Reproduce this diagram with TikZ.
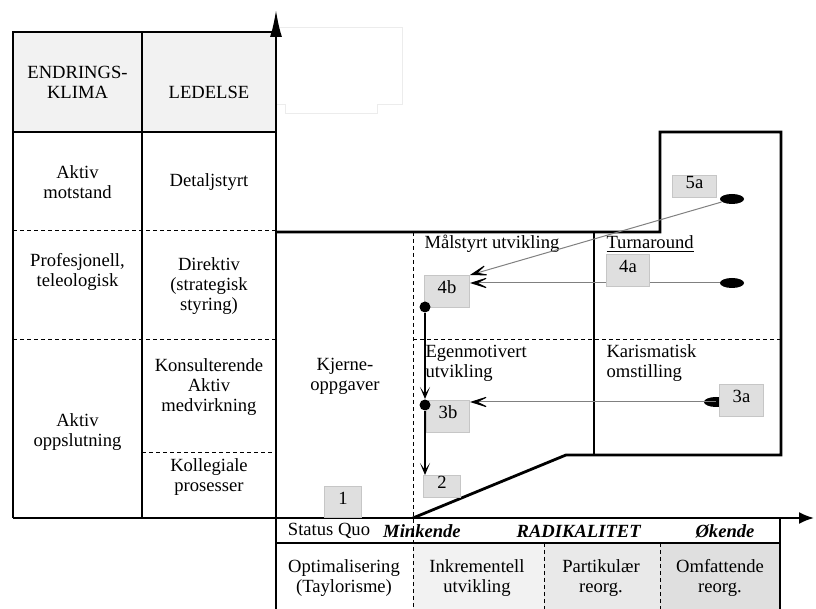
\documentclass[tikz,border=0pt]{standalone}
\usepackage{fontspec}
\setmainfont{Liberation Serif}
\usetikzlibrary{arrows.meta, shapes.geometric, calc}
\tikzset{
    %set default line width to 0.5pt
    every picture/.style={line width=0.5pt},
    frame-line/.style={
        line width=1pt,
    },
    box-line/.style={
        line width=1.4pt,
    },
    grid-dash/.style={
        dash pattern=on 2pt off 1.5pt,
        line width=0.5pt,
    },
    lbl-box/.style={
        draw=gray!45,
        fill=gray!25,
        inner sep=0pt,
        anchor=north west,
        text height=6.5pt,
        text depth=4pt,
    },
    txt/.style={
        align=center,
        inner sep=0pt,
    },
    dot/.style={
        circle,
        fill=black,
        inner sep=0pt,
        minimum size=5.5pt,
    },
    oval/.style={
        ellipse,
        fill=black,
        inner sep=0pt,
        minimum width=12pt,
        minimum height=5pt,
    },
    flow-arrow/.style={
        draw=gray,
        line width=0.5pt,
        -{Stealth[length=11pt,width=7pt,inset=7pt,color=black]},
    },
    path-arrow/.style={
        line width=0.6pt,
        -{Stealth[length=6pt,width=5pt,inset=3.5pt]},
    }
}

\begin{document}
\begin{tikzpicture}[x=0.5pt,y=-0.5pt,font=\fontsize{9.3}{10}\selectfont]
\useasboundingbox (0,0) rectangle (816,609);

%Header fill
\fill[gray!10] (13,32) rectangle (276,132);
%Bottom table fills
\fill[gray!10] (413,543) rectangle (544,609);
\fill[gray!17] (544,543) rectangle (660,609);
\fill[gray!25] (660,543) rectangle (780,609);

%Faint frame
\draw[gray!15] (277,28) -- (402,28) -- (402,105) -- (377,105) -- (377,114) -- (285,114) -- (285,105) -- (277,105);

%Left table
\draw[frame-line] (276,32) -- (13,32) -- (13,518);
\draw[frame-line] (142,32) -- (142,518);
\draw[frame-line] (13,132) -- (276,132);
\draw[grid-dash] (13,231) -- (276,231);
\draw[grid-dash] (13,340) -- (276,340);
\draw[grid-dash] (142,453) -- (276,453);

%Dashed grid
\draw[grid-dash] (413,232) -- (413,609);
\draw[grid-dash] (413,340) -- (781,340);
\draw[grid-dash] (544,543) -- (544,609);
\draw[grid-dash] (660,543) -- (660,609);

%Outline of the zones
\draw[box-line] (276,232) -- (660,232) -- (660,132) -- (781,132) -- (781,455) -- (566,455) -- (413,518);
\draw[box-line] (594,232) -- (594,455);

%Bottom table
\draw[frame-line] (276,543) -- (780,543);
\draw[frame-line] (780,518) -- (780,609);

%Axes
\draw[frame-line, -{Latex[length=13.5pt,width=6pt]}] (276,609) -- (276,10);
\draw[frame-line, -{Latex[length=7.5pt,width=6pt]}] (13,518) -- (814,518);

% Text Node
\node[txt] (klima) at (77.5,82) {ENDRINGS-\\KLIMA};
% Text Node
\node[txt] (ledelse) at (209,92) {LEDELSE};
% Text Node
\node[txt] (motstand) at (77.5,182) {Aktiv\\motstand};
% Text Node
\node[txt] (detalj) at (209,182) {Detaljstyrt};
% Text Node
\node[txt] (profesjonell) at (77.5,272) {Profesjonell,\\teleologisk};
% Text Node
\node[txt] (direktiv) at (209,286) {Direktiv\\(strategisk\\styring)};
% Text Node
\node[txt] (oppslutning) at (77.5,432) {Aktiv\\oppslutning};
% Text Node
\node[txt] (konsult) at (209,387) {Konsulterende\\Aktiv\\medvirkning};
% Text Node
\node[txt] (kollegiale) at (209,477) {Kollegiale\\prosesser};
% Text Node
\node[txt] (kjerne) at (345,376) {Kjerne-\\oppgaver};
% Text Node
\node[txt, anchor=west] (malstyrt) at (424,244) {Målstyrt utvikling};
% Text Node
\node[txt, anchor=west] (turnaround) at (606,244) {\underline{Turnaround}};
% Text Node
\node[txt, anchor=west, align=left] (egenmotivert) at (425,363) {Egenmotivert\\utvikling};
% Text Node
\node[txt, anchor=west, align=left] (karismatisk) at (606,363) {Karismatisk\\omstilling};
% Text Node
\node[txt] (statusquo) at (329,531) {Status Quo};
% Text Node
\node[txt] (minkende) at (422,531) {\textbf{\textit{Minkende}}};
% Text Node
\node[txt] (radikalitet) at (579,531) {\textbf{\textit{RADIKALITET}}};
% Text Node
\node[txt] (okende) at (725,531) {\textbf{\textit{Økende}}};
% Text Node
\node[txt] (optimal) at (344,578) {Optimalisering\\(Taylorisme)};
% Text Node
\node[txt] (inkrement) at (477,578) {Inkrementell\\utvikling};
% Text Node
\node[txt] (partikular) at (601,578) {Partikulær\\reorg.};
% Text Node
\node[txt] (omfattende) at (720,578) {Omfattende\\reorg.};

%Label boxes
\node[lbl-box, minimum width=22.5pt, minimum height=16pt] (n4b) at (424,275) {4b};
\node[lbl-box, minimum width=21.5pt, minimum height=16pt] (n3b) at (426,400) {3b};
\node[lbl-box, minimum width=18.5pt, minimum height=11pt] (n2) at (423,475) {2};
\node[lbl-box, minimum width=18.5pt, minimum height=15.5pt] (n1) at (324,486) {1};
\node[lbl-box, minimum width=22pt, minimum height=11pt] (n5a) at (672,175) {5a};

%Start and pass points
\node[oval] (d5a) at (732,199) {};
\node[oval] (d4a) at (732,283) {};
\node[oval] (d3a) at (716,402) {};
\node[dot] (d4b) at (425,307) {};
\node[dot] (d3b) at (425,405) {};

%Connectors
\draw[flow-arrow] (d5a) -- (n4b.north east);
\draw[flow-arrow] (d4a) -- (d4a -| n4b.east);
\draw[flow-arrow] (d3a.center) -- (d3a -| n3b.east);
\draw[path-arrow] (d4b) -- (d3b);
\draw[path-arrow] (d3b) -- (d3b |- n2.north);

%Boxes on top of the lines
\node[lbl-box, minimum width=21.5pt, minimum height=16pt] (n4a) at (606,254) {4a};
\node[lbl-box, minimum width=22pt, minimum height=16pt] (n3a) at (719,384) {3a};
\end{tikzpicture}
\end{document}
